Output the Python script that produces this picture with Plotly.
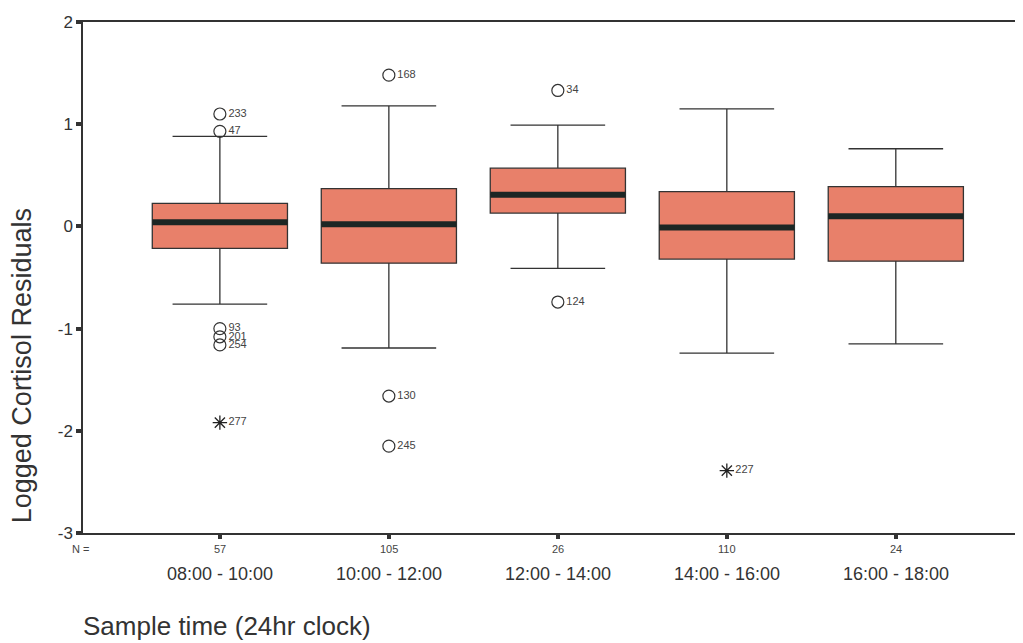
import plotly.graph_objects as go

categories = ["08:00 - 10:00", "10:00 - 12:00", "12:00 - 14:00", "14:00 - 16:00", "16:00 - 18:00"]
n_counts = ["57", "105", "26", "110", "24"]
q1 = [-0.215, -0.36, 0.13, -0.32, -0.34]
median = [0.04, 0.02, 0.31, -0.01, 0.10]
q3 = [0.225, 0.37, 0.57, 0.34, 0.39]
lower_whisker = [-0.76, -1.19, -0.41, -1.24, -1.15]
upper_whisker = [0.88, 1.18, 0.99, 1.15, 0.76]
y_ticks = [-3, -2, -1, 0, 1, 2]
y_tick_text = ["-3", "-2", "-1", "0", "1", "2"]

# outliers: (category index, value, case label)
outlier_cat = [0, 0, 0, 0, 0, 1, 1, 1, 2, 2]
outlier_val = [1.10, 0.93, -1.00, -1.08, -1.16, 1.48, -1.66, -2.15, 1.33, -0.74]
outlier_lab = ["233", "47", "93", "201", "254", "168", "130", "245", "34", "124"]

extreme_cat = [0, 3]
extreme_val = [-1.92, -2.39]
extreme_lab = ["277", "227"]

BOX_W = 0.8
fill = "#E8806A"
FONT = "Arial, Liberation Sans"

fig = go.Figure()
xs = list(range(len(categories)))
fig.add_trace(go.Box(
    x=xs, q1=q1, median=median, q3=q3,
    lowerfence=lower_whisker, upperfence=upper_whisker,
    width=BOX_W, whiskerwidth=0.7,
    fillcolor=fill, line=dict(color="#333333", width=1.3),
    boxpoints=False, showlegend=False, hoverinfo="skip",
))

# thick median lines
for i, m in zip(xs, median):
    fig.add_trace(go.Scatter(
        x=[i - BOX_W / 2, i + BOX_W / 2], y=[m, m], mode="lines",
        line=dict(color="#1c2624", width=6), showlegend=False, hoverinfo="skip",
    ))

fig.add_trace(go.Scatter(
    x=outlier_cat, y=outlier_val, mode="markers+text",
    marker=dict(symbol="circle-open", size=12, color="#333333", line=dict(width=1.2)),
    text=outlier_lab, textposition="middle right",
    textfont=dict(family=FONT, size=11, color="#444444"),
    showlegend=False, hoverinfo="skip", cliponaxis=False,
))
fig.add_trace(go.Scatter(
    x=extreme_cat, y=extreme_val, mode="markers+text",
    marker=dict(symbol="asterisk-open", size=12, color="#222222", line=dict(width=1.3, color="#222222")),
    text=extreme_lab, textposition="middle right",
    textfont=dict(family=FONT, size=11, color="#444444"),
    showlegend=False, hoverinfo="skip", cliponaxis=False,
))

# N row and category labels
annotations = [dict(x=-0.003, y=-0.031, xref="paper", yref="paper", text="N =", showarrow=False,
                    xanchor="center", yanchor="middle",
                    font=dict(family=FONT, size=11, color="#444444"))]
for i, (c, n) in enumerate(zip(categories, n_counts)):
    annotations.append(dict(x=i, y=-0.031, xref="x", yref="paper", text=n, showarrow=False,
                            xanchor="center", yanchor="middle",
                            font=dict(family=FONT, size=11, color="#444444")))
    annotations.append(dict(x=i, y=-0.080, xref="x", yref="paper", text=c, showarrow=False,
                            xanchor="center", yanchor="middle",
                            font=dict(family=FONT, size=18, color="#333333")))
annotations.append(dict(x=-0.002, y=-0.182, xref="paper", yref="paper",
                        text="Sample time (24hr clock)", showarrow=False,
                        xanchor="left", yanchor="middle",
                        font=dict(family=FONT, size=26, color="#333333")))
annotations.append(dict(x=-0.064, y=0.327, xref="paper", yref="paper",
                        text="Logged Cortisol Residuals", showarrow=False, textangle=-90,
                        xanchor="center", yanchor="middle",
                        font=dict(family=FONT, size=27, color="#333333")))

fig.update_layout(
    width=1023, height=643,
    margin=dict(l=75, r=0, t=14, b=118, autoexpand=False),
    paper_bgcolor="white", plot_bgcolor="white",
    annotations=annotations,
    xaxis=dict(range=[-0.81, 4.80], showticklabels=False, showgrid=False, zeroline=False,
               automargin=False,
               showline=True, linecolor="#333333", linewidth=1.5, mirror=True,
               ticks="outside", tickvals=xs, ticklen=4, tickwidth=4, tickcolor="#333333"),
    yaxis=dict(range=[-3, 2], tickvals=y_ticks, ticktext=y_tick_text, showgrid=False, zeroline=False,
               automargin=False,
               showline=True, linecolor="#333333", linewidth=1.5,
               ticks="outside", ticklen=5, tickwidth=4, tickcolor="#333333",
               tickfont=dict(family=FONT, size=17, color="#333333")),
)

fig.write_html("out.html")
